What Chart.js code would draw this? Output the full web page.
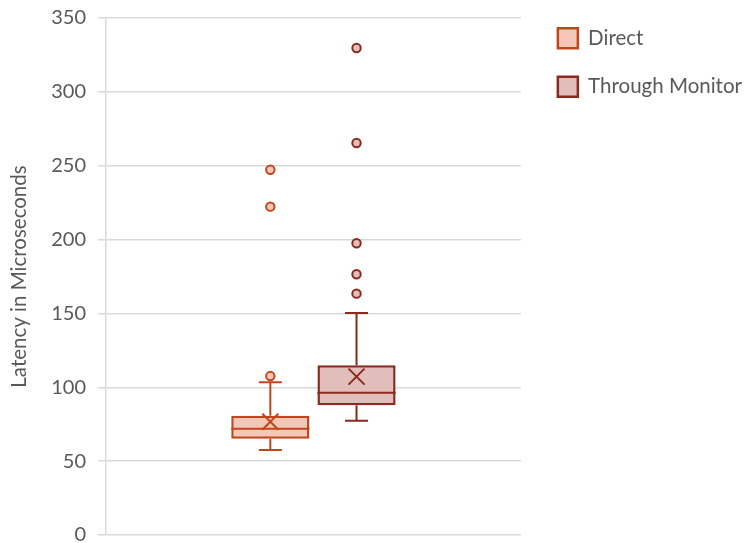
<!DOCTYPE html>
<html>
<head>
<meta charset="utf-8">
<script src="https://cdn.jsdelivr.net/npm/chart.js@4"></script>
<style>
  html, body { margin: 0; padding: 0; background: #fff; }
  #wrap { width: 745px; height: 543px; }
</style>
</head>
<body>
<div id="wrap"><canvas id="boxChart" width="745" height="543"></canvas></div>
<script>
const categories = [''];
const seriesNames = ['Direct', 'Through Monitor'];
const q1 = [65.2, 87.8];
const q3 = [80.8, 115.0];
const medians = [72.0, 96.3];
const means = [76.7, 107.2];
const whiskerLow = [57.5, 77.4];
const whiskerHigh = [103.4, 150.3];
const outliers = [
  [107.6, 222.3, 247.3],
  [163.4, 176.5, 197.5, 265.4, 329.7],
];
const yTicks = [0, 50, 100, 150, 200, 250, 300, 350];

const fills = ['#f4c7b8', '#e1bdbb'];
const strokes = ['#c2461c', '#8a2a1f'];
const textGrey = '#595959';
const fontFamily = 'Lato, "Open Sans", sans-serif';

// Whiskers, median, mean cross and outlier dots are drawn on top of the floating bars.
const boxExtras = {
  id: 'boxExtras',
  afterDatasetsDraw(chart) {
    const ctx = chart.ctx;
    const y = chart.scales.y;
    chart.data.datasets.forEach((ds, i) => {
      const bar = chart.getDatasetMeta(i).data[0];
      if (!bar) return;
      const x = bar.x;
      const half = bar.width / 2;
      const cap = 11.5;
      ctx.save();
      ctx.strokeStyle = strokes[i];
      ctx.lineWidth = 2;
      ctx.beginPath();
      // upper whisker
      ctx.moveTo(x, y.getPixelForValue(q3[i]));
      ctx.lineTo(x, y.getPixelForValue(whiskerHigh[i]));
      ctx.moveTo(x - cap, y.getPixelForValue(whiskerHigh[i]));
      ctx.lineTo(x + cap, y.getPixelForValue(whiskerHigh[i]));
      // lower whisker
      ctx.moveTo(x, y.getPixelForValue(q1[i]));
      ctx.lineTo(x, y.getPixelForValue(whiskerLow[i]));
      ctx.moveTo(x - cap, y.getPixelForValue(whiskerLow[i]));
      ctx.lineTo(x + cap, y.getPixelForValue(whiskerLow[i]));
      // median
      ctx.moveTo(x - half, y.getPixelForValue(medians[i]));
      ctx.lineTo(x + half, y.getPixelForValue(medians[i]));
      ctx.stroke();

      // mean cross
      const my = y.getPixelForValue(means[i]);
      const s = 8;
      ctx.beginPath();
      ctx.moveTo(x - s, my - s);
      ctx.lineTo(x + s, my + s);
      ctx.moveTo(x + s, my - s);
      ctx.lineTo(x - s, my + s);
      ctx.stroke();

      // outliers
      ctx.fillStyle = fills[i];
      outliers[i].forEach((v) => {
        ctx.beginPath();
        ctx.arc(x, y.getPixelForValue(v), 4.2, 0, Math.PI * 2);
        ctx.fill();
        ctx.stroke();
      });
      ctx.restore();
    });
  },
};

new Chart(document.getElementById('boxChart').getContext('2d'), {
  type: 'bar',
  data: {
    labels: categories,
    datasets: seriesNames.map((name, i) => ({
      label: name,
      data: [[q1[i], q3[i]]],
      yAxisID: 'y',
      backgroundColor: fills[i],
      borderColor: strokes[i],
      borderWidth: 2.5,
      borderSkipped: false,
      categoryPercentage: 0.4155,
      barPercentage: 0.907,
    })),
  },
  options: {
    responsive: false,
    animation: false,
    layout: { padding: { top: 0, left: 0, bottom: 0, right: -7 } },
    plugins: {
      tooltip: { enabled: false },
      legend: {
        position: 'right',
        align: 'start',
        maxWidth: 400,
        labels: {
          boxWidth: 20,
          boxHeight: 20,
          padding: 28,
          color: textGrey,
          font: { family: fontFamily, size: 20.5 },
        },
      },
    },
    scales: {
      x: { display: false },
      y: {
        min: 0,
        max: 350,
        afterBuildTicks: (scale) => {
          scale.ticks = yTicks.map((v) => ({ value: v }));
        },
        afterFit: (s) => {
          s.width = 106;
          s.paddingTop = 18;
          s.paddingBottom = 8;
        },
        grid: { color: '#d9d9d9', lineWidth: 1.5, tickLength: 8 },
        border: { color: '#d9d9d9', width: 1.5 },
        ticks: {
          color: textGrey,
          padding: 12,
          font: { family: fontFamily, size: 20 },
        },
        title: {
          display: true,
          text: 'Latency in Microseconds',
          color: textGrey,
          padding: { top: 7, bottom: 0 },
          font: { family: fontFamily, size: 20.5 },
        },
      },
      // empty spacer between the plot and the legend
      gap: {
        axis: 'y',
        position: 'right',
        grid: { display: false },
        border: { display: false },
        ticks: { display: false },
        afterFit: (s) => { s.width = 9; },
      },
    },
  },
  plugins: [boxExtras],
});
</script>
</body>
</html>
